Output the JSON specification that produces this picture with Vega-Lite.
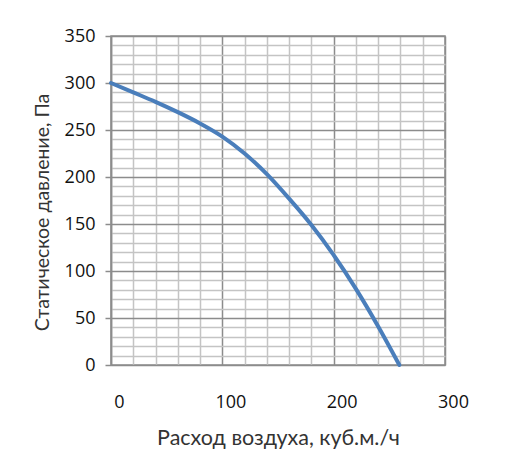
{
  "$schema": "https://vega.github.io/schema/vega-lite/v6.json",
  "width": 334,
  "height": 329,
  "autosize": {"type": "none"},
  "padding": {"left": 111, "top": 36, "right": 78, "bottom": 107},
  "background": "white",
  "config": {
    "view": {"stroke": "#8c8c8c", "strokeWidth": 1.5},
    "axis": {"labelFont": "Open Sans", "titleFont": "Lato", "labelColor": "#111", "titleColor": "#333"}
  },
  "data": {"values": [
    {"flow": 0, "pressure": 300},
    {"flow": 20, "pressure": 290},
    {"flow": 40, "pressure": 280},
    {"flow": 60, "pressure": 269},
    {"flow": 80, "pressure": 257},
    {"flow": 100, "pressure": 243},
    {"flow": 120, "pressure": 225},
    {"flow": 140, "pressure": 203},
    {"flow": 160, "pressure": 177},
    {"flow": 180, "pressure": 149},
    {"flow": 200, "pressure": 117},
    {"flow": 220, "pressure": 81},
    {"flow": 240, "pressure": 41},
    {"flow": 259, "pressure": 0}
  ]},
  "mark": {"type": "line", "color": "#4a7ebb", "strokeWidth": 4, "interpolate": "monotone", "strokeCap": "round"},
  "encoding": {
    "x": {
      "field": "flow", "type": "quantitative",
      "scale": {"domain": [0, 300], "nice": false, "zero": false},
      "axis": {
        "title": "Расход воздуха, куб.м./ч",
        "titleFontSize": 21.5, "titleFontWeight": "normal", "titlePadding": 16,
        "values": [0,20,40,60,80,100,120,140,160,180,200,220,240,260,280,300],
        "labelExpr": "datum.value % 100 === 0 ? datum.label : ''",
        "labelFontSize": 18, "labelPadding": 28, "labelOffset": 8, "labelFlush": false,
        "ticks": false, "domain": false,
        "grid": true, "gridWidth": 1.5,
        "gridColor": {"condition": {"test": "datum.value % 100 === 0", "value": "#8c8c8c"}, "value": "#c4c4c4"}
      }
    },
    "y": {
      "field": "pressure", "type": "quantitative",
      "scale": {"domain": [0, 350], "nice": false},
      "axis": {
        "title": "Статическое давление, Па",
        "titleFontSize": 19.5, "titleFontWeight": "normal", "titlePadding": 12, "titleY": 176,
        "values": [0,10,20,30,40,50,60,70,80,90,100,110,120,130,140,150,160,170,180,190,200,210,220,230,240,250,260,270,280,290,300,310,320,330,340,350],
        "labelExpr": "datum.value % 50 === 0 ? datum.label : ''",
        "labelFontSize": 18, "labelPadding": 10, "labelFlush": false,
        "ticks": true, "tickSize": 6, "tickWidth": 1.5,
        "tickColor": {"condition": {"test": "datum.value % 50 === 0", "value": "#8c8c8c"}, "value": "transparent"},
        "domain": true, "domainColor": "#8c8c8c", "domainWidth": 1.5,
        "grid": true, "gridWidth": 1.5,
        "gridColor": {"condition": {"test": "datum.value % 50 === 0", "value": "#8c8c8c"}, "value": "#c4c4c4"}
      }
    }
  }
}
